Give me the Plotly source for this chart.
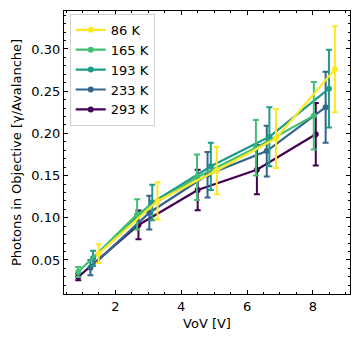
import plotly.graph_objects as go

# Photon yield per avalanche vs overvoltage, for each temperature
temps = ["86 K", "165 K", "193 K", "233 K", "293 K"]
colors = ["#fde725", "#42be71", "#1f9c89", "#33658d", "#440154"]

vov = {
    "86 K": [1.49, 3.28, 5.08, 6.88, 8.67],
    "165 K": [0.87, 2.66, 4.48, 6.27, 8.03],
    "193 K": [1.32, 3.12, 4.90, 6.68, 8.49],
    "233 K": [1.24, 3.03, 4.80, 6.60, 8.39],
    "293 K": [0.87, 2.70, 4.50, 6.30, 8.09],
}
photons = {
    "86 K": [0.0575, 0.120, 0.156, 0.194, 0.276],
    "165 K": [0.0358, 0.104, 0.148, 0.183, 0.221],
    "193 K": [0.052, 0.118, 0.161, 0.196, 0.253],
    "233 K": [0.0409, 0.106, 0.151, 0.179, 0.231],
    "293 K": [0.030, 0.0915, 0.133, 0.157, 0.199],
}
photons_err = {
    "86 K": [0.011, 0.022, 0.028, 0.035, 0.051],
    "165 K": [0.006, 0.018, 0.027, 0.033, 0.040],
    "193 K": [0.009, 0.021, 0.028, 0.035, 0.046],
    "233 K": [0.009, 0.020, 0.027, 0.030, 0.042],
    "293 K": [0.004, 0.017, 0.024, 0.029, 0.037],
}
vov_err = 0.05

font_family = "DejaVu Sans"
text_color = "black"


def main():
    fig = go.Figure()

    # draw the warmest first so the coldest ends up on top
    for name, color in reversed(list(zip(temps, colors))):
        fig.add_trace(
            go.Scatter(
                x=vov[name],
                y=photons[name],
                mode="lines+markers",
                name=name,
                line=dict(color=color, width=2.2),
                marker=dict(color=color, size=6),
                error_y=dict(type="data", array=photons_err[name], color=color,
                             thickness=2, width=3),
                error_x=dict(type="constant", value=vov_err, color=color,
                             thickness=2, width=0),
            )
        )

    axis_common = dict(
        showline=True,
        linecolor="black",
        linewidth=1.2,
        mirror="allticks",
        ticks="inside",
        ticklen=4,
        tickwidth=1,
        tickcolor="black",
        showgrid=False,
        zeroline=False,
        automargin=False,
        tickfont=dict(family=font_family, size=13, color=text_color),
    )

    fig.update_layout(
        width=360,
        height=342,
        paper_bgcolor="white",
        plot_bgcolor="white",
        font=dict(family=font_family, size=13, color=text_color),
        margin=dict(l=64, r=10, t=11, b=48, pad=0),
        xaxis=dict(
            axis_common,
            range=[0.437, 9.13],
            tickvals=[2, 4, 6, 8],
            minor=dict(dtick=0.5, ticks="inside", ticklen=2, tickcolor="black"),
            title=dict(text="VoV [V]", font=dict(size=13), standoff=6),
        ),
        yaxis=dict(
            axis_common,
            range=[0.0097, 0.345],
            tickvals=[0.05, 0.10, 0.15, 0.20, 0.25, 0.30],
            tickformat=".2f",
            minor=dict(dtick=0.01, ticks="inside", ticklen=2, tickcolor="black"),
            title=dict(text="Photons in Objective [γ/Avalanche]", font=dict(size=13), standoff=6),
        ),
        legend=dict(
            x=0.02,
            y=0.99,
            xanchor="left",
            yanchor="top",
            traceorder="reversed",
            bgcolor="rgba(255,255,255,0.8)",
            bordercolor="#d0d0d0",
            borderwidth=1,
            font=dict(family=font_family, size=13, color=text_color),
        ),
        showlegend=True,
    )

    # page body margin would shift the figure, drop it
    fig.write_html(
        "out.html",
        config={"displayModeBar": False},
        post_script="document.body.style.margin='0';",
    )


if __name__ == "__main__":
    main()
